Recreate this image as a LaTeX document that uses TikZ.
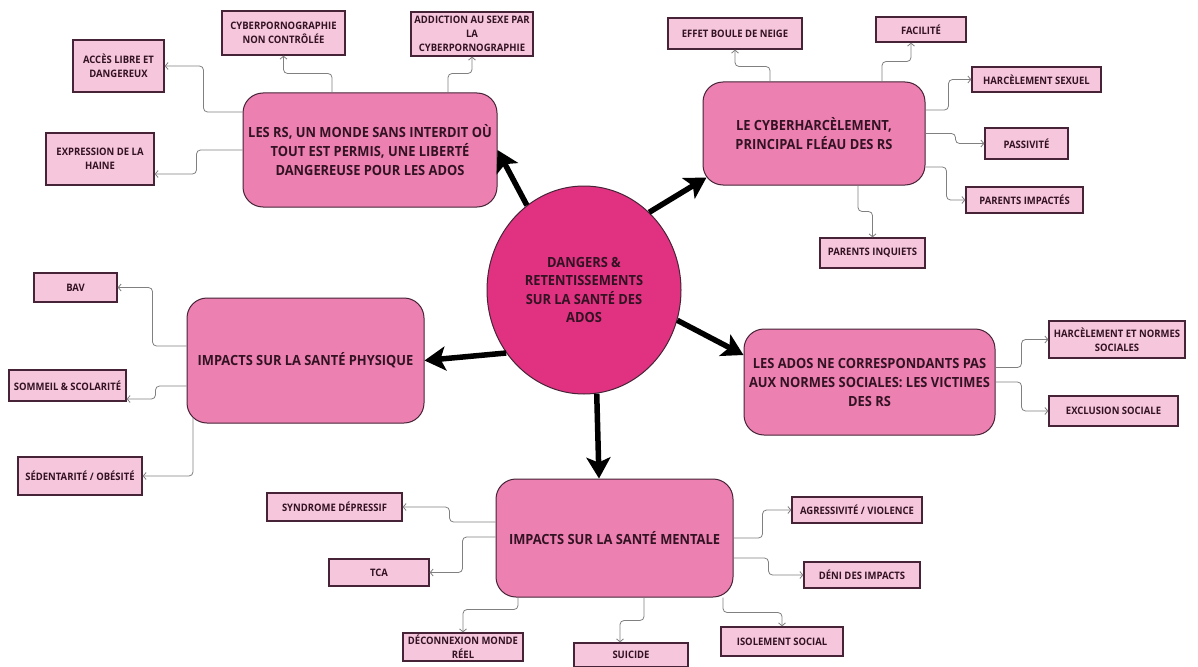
\documentclass[tikz,border=0pt]{standalone}
\usepackage{fontspec}
\setmainfont{Open Sans}[FakeStretch=0.92]
\usetikzlibrary{arrows.meta,shapes.geometric}
\definecolor{hubpink}{RGB}{224,50,128}
\definecolor{themepink}{RGB}{236,128,176}
\definecolor{leafpink}{RGB}{246,198,221}
\definecolor{edgedark}{RGB}{70,35,55}
\definecolor{inkdark}{RGB}{50,18,35}

\begin{document}
\begin{tikzpicture}[
    x=1pt, y=-1pt,
    hub/.style={ellipse, draw=edgedark, line width=1pt, fill=hubpink,
    minimum width=194pt, minimum height=208pt, inner sep=0pt, align=center,
    text=inkdark, font=\bfseries\fontsize{14}{18.3}\selectfont},
    theme/.style={rectangle, rounded corners=20pt, draw=edgedark, line width=1pt,
    fill=themepink, inner sep=0pt, align=center, text=inkdark,
    font=\bfseries\fontsize{14}{19}\selectfont},
    leaf/.style={rectangle, draw=edgedark, line width=1.3pt, fill=leafpink,
    inner sep=0pt, align=center, text=inkdark,
    font=\bfseries\fontsize{10.3}{14}\selectfont},
    link/.style={draw=gray, line width=0.8pt, rounded corners=4pt,
    -{Straight Barb[length=3pt,width=7pt]}},
    spoke/.style={line width=5.5pt, -{Stealth[length=21pt,width=24pt,inset=5pt]}}
    ]
    \fill[white] (0,0) rectangle (1198,666);
    \useasboundingbox (0,0) rectangle (1198,666);

    % hub
    \node[hub] (dangers) at (584,290) {DANGERS \&\\RETENTISSEMENTS\\SUR LA SANTÉ DES\\ADOS};

    % themes
    \node[theme, minimum width=254pt, minimum height=114pt] (monde) at (370,150)
        {LES RS, UN MONDE SANS INTERDIT OÙ\\TOUT EST PERMIS, UNE LIBERTÉ\\DANGEREUSE POUR LES ADOS};
    \node[theme, minimum width=222pt, minimum height=103pt] (cyber) at (814,133.5)
        {LE CYBERHARCÈLEMENT,\\PRINCIPAL FLÉAU DES RS};
    \node[theme, minimum width=237pt, minimum height=125pt] (physique) at (305.5,360.5)
        {IMPACTS SUR LA SANTÉ PHYSIQUE};
    \node[theme, minimum width=251pt, minimum height=106pt] (normes) at (869.5,382)
        {LES ADOS NE CORRESPONDANTS PAS\\AUX NORMES SOCIALES: LES VICTIMES\\DES RS};
    \node[theme, minimum width=237pt, minimum height=118pt] (mentale) at (614.5,538)
        {IMPACTS SUR LA SANTÉ MENTALE};

    % leaves
    \node[leaf, minimum width=91pt, minimum height=52pt] (acces) at (118.5,66) {ACCÈS LIBRE ET\\DANGEREUX};
    \node[leaf, minimum width=123pt, minimum height=44pt] (porno) at (283.5,33) {CYBERPORNOGRAPHIE\\NON CONTRÔLÉE};
    \node[leaf, minimum width=122pt, minimum height=44pt] (addiction) at (472,34) {ADDICTION AU SEXE PAR\\LA\\CYBERPORNOGRAPHIE};
    \node[leaf, minimum width=108pt, minimum height=52pt] (haine) at (100,159) {EXPRESSION DE LA\\HAINE};
    \node[leaf, minimum width=134pt, minimum height=31pt] (effet) at (735,33.5) {EFFET BOULE DE NEIGE};
    \node[leaf, minimum width=90pt, minimum height=25pt] (facilite) at (921,29.5) {FACILITÉ};
    \node[leaf, minimum width=129pt, minimum height=25pt] (hsexuel) at (1036.5,79.5) {HARCÈLEMENT SEXUEL};
    \node[leaf, minimum width=83pt, minimum height=31pt] (passivite) at (1026.5,143.5) {PASSIVITÉ};
    \node[leaf, minimum width=117pt, minimum height=26pt] (impactes) at (1024.5,200) {PARENTS IMPACTÉS};
    \node[leaf, minimum width=105pt, minimum height=30pt] (inquiets) at (872.5,253) {PARENTS INQUIETS};
    \node[leaf, minimum width=83pt, minimum height=29pt] (bav) at (75.5,287.5) {BAV};
    \node[leaf, minimum width=117pt, minimum height=31pt] (sommeil) at (67.5,385.5) {SOMMEIL \& SCOLARITÉ};
    \node[leaf, minimum width=124pt, minimum height=38pt] (sedentarite) at (80,476) {SÉDENTARITÉ / OBÉSITÉ};
    \node[leaf, minimum width=136pt, minimum height=37pt] (hnormes) at (1117,339.5) {HARCÈLEMENT ET NORMES\\SOCIALES};
    \node[leaf, minimum width=129pt, minimum height=30pt] (exclusion) at (1113.5,411) {EXCLUSION SOCIALE};
    \node[leaf, minimum width=135pt, minimum height=28pt] (syndrome) at (334.5,507) {SYNDROME DÉPRESSIF};
    \node[leaf, minimum width=100pt, minimum height=27pt] (tca) at (379,572.5) {TCA};
    \node[leaf, minimum width=120pt, minimum height=28pt] (deconnexion) at (463,647) {DÉCONNEXION MONDE\\RÉEL};
    \node[leaf, minimum width=114pt, minimum height=24pt] (suicide) at (631,655) {SUICIDE};
    \node[leaf, minimum width=122pt, minimum height=29pt] (isolement) at (782,641.5) {ISOLEMENT SOCIAL};
    \node[leaf, minimum width=130pt, minimum height=26pt] (agressivite) at (857,510) {AGRESSIVITÉ / VIOLENCE};
    \node[leaf, minimum width=116pt, minimum height=26pt] (deni) at (862,575) {DÉNI DES IMPACTS};

    % spokes
    \draw[spoke] (dangers.124) -- (monde.east);
    \draw[spoke] (dangers.50) -- ([shift={(4pt,8pt)}]cyber.south west);
    \draw[spoke] (dangers.219) -- (physique.east);
    \draw[spoke] (dangers.342) -- ([yshift=27pt]normes.west);
    \draw[spoke] (dangers.277) -- ([xshift=-15.5pt]mentale.north);

    % links
    \draw[link] ([yshift=38pt]monde.west) -- ++(-39,0) |- (acces.east);
    \draw[link] (monde.west) -- ++(-46,0) |- ([yshift=-15pt]haine.east);
    \draw[link] ([xshift=-38pt]monde.north) -- ++(0,-19) -| (porno.south);
    \draw[link] ([xshift=78pt]monde.north) -- ++(0,-19) -| (addiction.south);
    \draw[link] ([xshift=-44pt]cyber.north) -- ++(0,-15) -| (effet.south);
    \draw[link] ([xshift=68pt]cyber.north) -- ++(0,-20) -| ([xshift=-10pt]facilite.south);
    \draw[link] ([yshift=23.5pt]cyber.east) -- ++(23,0) |- (hsexuel.west);
    \draw[link] (cyber.east) -- ++(30,0) |- (passivite.west);
    \draw[link] ([yshift=-33.5pt]cyber.east) -- ++(21,0) |- (impactes.west);
    \draw[link] ([xshift=44pt]cyber.south) -- ++(0,26) -| (inquiets.north);
    \draw[link] ([yshift=14.5pt]physique.west) -- ++(-34,0) |- (bav.east);
    \draw[link] ([yshift=-25.5pt]physique.west) -- ++(-31,0) |- ([yshift=-13.5pt]sommeil.east);
    \draw[link] ([xshift=-112.5pt,yshift=6pt]physique.south) |- (sedentarite.east);
    \draw[link] ([yshift=14.5pt]normes.east) -- ++(26,0) |- (hnormes.west);
    \draw[link] (normes.east) -- ++(26,0) |- (exclusion.west);
    \draw[link] ([yshift=16pt]mentale.west) -- ++(-46,0) |- (syndrome.east);
    \draw[link] ([yshift=1pt]mentale.west) -- ++(-33,0) |- (tca.east);
    \draw[link] ([xshift=-96.5pt]mentale.south) -- ++(0,12) -| (deconnexion.north);
    \draw[link] ([xshift=29.5pt]mentale.south) -- ++(0,23) -| ([xshift=-11pt]suicide.north);
    \draw[link] ([xshift=108.5pt]mentale.south) -- ++(0,15) -| (isolement.north);
    \draw[link] (mentale.east) -- ++(29,0) |- (agressivite.west);
    \draw[link] ([yshift=-20pt]mentale.east) -- ++(35,0) |- (deni.west);

\end{tikzpicture}
\end{document}
